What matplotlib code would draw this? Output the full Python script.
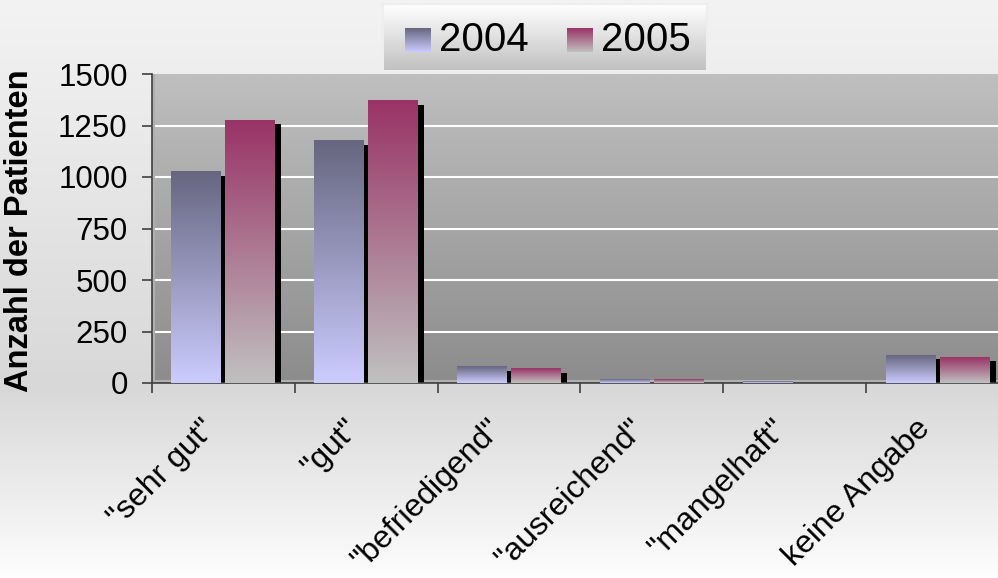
import matplotlib
matplotlib.use('Agg')
import matplotlib.pyplot as plt
import numpy as np
from matplotlib.colors import LinearSegmentedColormap
from matplotlib.transforms import blended_transform_factory

categories = ['"sehr gut"', '"gut"', '"befriedigend"', '"ausreichend"', '"mangelhaft"', 'keine Angabe']
years = ['2004', '2005']
v2004 = [1025, 1175, 80, 15, 6, 135]
v2005 = [1275, 1370, 70, 18, 0, 125]
yticks = [0, 250, 500, 750, 1000, 1250, 1500]

plt.rcParams['font.family'] = ['Liberation Sans', 'DejaVu Sans']

# gradients: bottom colour first, top colour second
cmaps = [LinearSegmentedColormap.from_list('c04', ['#ccccff', '#666680']),
         LinearSegmentedColormap.from_list('c05', ['#c0c0c0', '#993366'])]
grad = np.linspace(0, 1, 256).reshape(-1, 1)

fig = plt.figure(figsize=(9.98, 5.78), dpi=100)

# figure background
bg = fig.add_axes([0, 0, 1, 1], zorder=-10)
bg.axis('off')
bg_cmap = LinearSegmentedColormap.from_list('bg', [(0, '#fdfdfd'), (0.33, '#d8d8d8'), (1, '#f3f3f3')])
bg.imshow(grad, cmap=bg_cmap, aspect='auto', origin='lower', extent=[0, 1, 0, 1])

# plot area
ax = fig.add_axes([152/998, 1 - 383/578, 857/998, 309/578])
ax_cmap = LinearSegmentedColormap.from_list('ax', ['#8c8c8c', '#bfbfbf'])
ax.imshow(grad, cmap=ax_cmap, aspect='auto', origin='lower', extent=[0, 1, 0, 1],
          transform=ax.transAxes, zorder=0.1)

x = np.arange(len(categories))
w = 0.35
gap = 0.014
sx = 6 / 142.8   # shadow offset (x)
sy = 20          # shadow drop (y)
offsets = [-(gap + w / 2), gap + w / 2]

for vals, off in zip([v2004, v2005], offsets):
    ax.bar(x + off + sx, np.clip(np.array(vals) - sy, 0, None), w, color='black', zorder=2)

for vals, off, cm in zip([v2004, v2005], offsets, cmaps):
    bars = ax.bar(x + off, vals, w, color='none', zorder=3)
    for b in bars:
        x0, h = b.get_x(), b.get_height()
        if h <= 0:
            continue
        ax.imshow(grad, cmap=cm, aspect='auto', origin='lower', interpolation='bilinear',
                  extent=[x0, x0 + b.get_width(), 0, h], zorder=3)

# light floor / wall edges
ax.axhline(9, color='#b0b0b0', lw=1.5, zorder=1)
ax.axvline(-0.5 + 2 / 142.8, color='#b0b0b0', lw=1.5, zorder=1)

ax.set_xlim(-0.5, 5.5)
ax.set_ylim(0, 1500)
ax.set_yticks(yticks)
ax.set_axisbelow(True)
ax.yaxis.grid(True, color='white', lw=1.5)
ax.get_ygridlines()[0].set_visible(False)
ax.get_ygridlines()[-1].set_visible(False)

ax.set_xticks(np.arange(-0.5, 6, 1))
ax.set_xticklabels([])
for s in ['top', 'right']:
    ax.spines[s].set_visible(False)
for s in ['left', 'bottom']:
    ax.spines[s].set_color('#404040')
    ax.spines[s].set_linewidth(1.2)
ax.tick_params(axis='y', direction='out', length=7, width=1.2, color='#404040',
               labelsize=22.5, pad=10.5)
ax.tick_params(axis='x', direction='out', length=7.5, width=1.2, color='#404040')

trans = blended_transform_factory(ax.transData, ax.transAxes)
for i, lab in enumerate(categories):
    ax.text(i - 0.16, -0.1, lab, transform=trans, rotation=45, rotation_mode='anchor',
            ha='right', va='top', fontsize=23)

ax.set_ylabel('Anzahl der Patienten', fontsize=23.5, fontweight='bold')
ax.yaxis.set_label_coords(-0.1365, 0.4935)

# legend box
lg = fig.add_axes([383/998, 1 - 71/578, 324/998, 67/578])
lg_cmap = LinearSegmentedColormap.from_list('lg', ['#c0c0c0', '#ffffff'])
lg.imshow(grad, cmap=lg_cmap, aspect='auto', origin='lower', extent=[0, 1, 0, 1])
lg.set_xticks([])
lg.set_yticks([])
for s in lg.spines.values():
    s.set_color('#eeeeee')
    s.set_linewidth(1.5)
sq_x = [0.068, 0.568]
for name, cm, sx0 in zip(years, cmaps, sq_x):
    lg.imshow(grad, cmap=cm, aspect='auto', origin='lower', interpolation='bilinear',
              extent=[sx0, sx0 + 0.078, 0.284, 0.642])
    lg.text(sx0 + 0.105, 0.47, name, fontsize=29, va='center', ha='left')
lg.set_xlim(0, 1)
lg.set_ylim(0, 1)

fig.savefig('out.png', dpi=100)
